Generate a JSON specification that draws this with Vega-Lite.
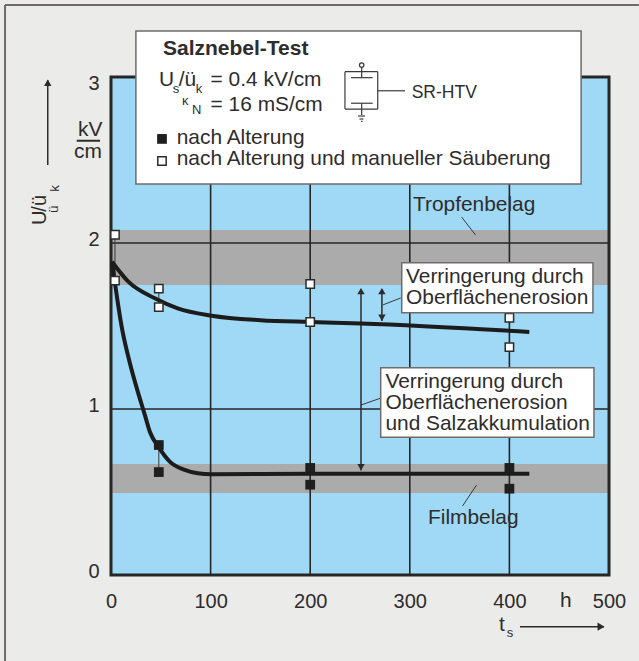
{
"$schema":"https://vega.github.io/schema/vega-lite/v6.json",
"width":498,"height":498,
"autosize":{"type":"none"},
"padding":{"left":111,"top":77,"right":30,"bottom":86},
"background":"#ebebe9",
"view":{"stroke":null},
"config":{"text":{"font":"Liberation Sans","color":"#2e2c2c","align":"left","baseline":"middle"}},
"encoding":{
 "x":{"field":"x","type":"quantitative","scale":{"domain":[0,500],"nice":false,"zero":false},
  "axis":{"values":[0,100,200,300,400,500],"grid":false,"domain":false,"ticks":false,"title":null,"labelFont":"Liberation Sans","labelFontSize":20,"labelColor":"#2e2c2c","labelPadding":16,"labelFlush":false,"labelOverlap":false}},
 "y":{"field":"y","type":"quantitative","scale":{"domain":[0,3],"nice":false,"zero":false},
  "axis":{"values":[0,1,2,3],"format":"d","grid":false,"domain":false,"ticks":false,"title":null,"labelFont":"Liberation Sans","labelFontSize":20,"labelColor":"#2e2c2c","labelPadding":12,"labelOffset":{"condition":{"test":"datum.value==3","value":6},"value":-4},"labelOverlap":false}}
},
"layer":[
 {"data":{"values":[{"x":-106.4,"x2":530,"y":3.434,"y2":3.434},{"x":-106.4,"x2":-106.4,"y":3.434,"y2":-0.52}]},
  "mark":{"type":"rule","color":"#6e6a6a","strokeWidth":2},"encoding":{"x2":{"field":"x2"},"y2":{"field":"y2"}}},
 {"data":{"values":[{"x":0,"x2":500,"y":0,"y2":3}]},"mark":{"type":"rect","color":"#9fd9f5"},"encoding":{"x2":{"field":"x2"},"y2":{"field":"y2"}}},
 {"data":{"values":[{"x":0,"x2":500,"y":1.747,"y2":2.078},{"x":0,"x2":500,"y":0.494,"y2":0.669}]},"mark":{"type":"rect","color":"#ababab"},"encoding":{"x2":{"field":"x2"},"y2":{"field":"y2"}}},
 {"data":{"values":[
   {"x":100,"x2":100,"y":0,"y2":3},{"x":200,"x2":200,"y":0,"y2":3},{"x":300,"x2":300,"y":0,"y2":3},{"x":400,"x2":400,"y":0,"y2":3},
   {"x":0,"x2":500,"y":1,"y2":1},{"x":0,"x2":500,"y":2,"y2":2}]},
  "mark":{"type":"rule","color":"#262626","strokeWidth":1.6},"encoding":{"x2":{"field":"x2"},"y2":{"field":"y2"}}},
 {"data":{"values":[{"x":0,"x2":500,"y":0,"y2":3}]},"mark":{"type":"rect","fillOpacity":0,"stroke":"#262626","strokeWidth":3},"encoding":{"x2":{"field":"x2"},"y2":{"field":"y2"}}},
 {"data":{"values":[
   {"x":4,"x2":4,"y":1.773,"y2":2.05},{"x":48,"x2":48,"y":1.614,"y2":1.725},{"x":48,"x2":48,"y":0.62,"y2":0.783},
   {"x":352,"x2":366,"y":2.157,"y2":2.048},{"x":367,"x2":353,"y":0.542,"y2":0.416},
   {"x":273,"x2":291,"y":1.627,"y2":1.669},{"x":251,"x2":271,"y":1.024,"y2":1.066}]},
  "mark":{"type":"rule","color":"#3a3a3a","strokeWidth":1},"encoding":{"x2":{"field":"x2"},"y2":{"field":"y2"}}},
 {"data":{"values":[{"x":251,"x2":251,"y":0.63,"y2":1.72},{"x":272,"x2":272,"y":1.53,"y2":1.72},{"x":-63.5,"x2":-63.5,"y":2.47,"y2":2.98},{"x":410.6,"x2":495,"y":-0.311,"y2":-0.311}]},
  "mark":{"type":"rule","color":"#2b2b2b","strokeWidth":1.5},"encoding":{"x2":{"field":"x2"},"y2":{"field":"y2"}}},
 {"data":{"values":[{"x":251,"y":1.71},{"x":272,"y":1.71},{"x":-63.5,"y":2.965}]},"mark":{"type":"point","shape":"triangle-up","filled":true,"color":"#2b2b2b","opacity":1,"size":55}},
 {"data":{"values":[{"x":251,"y":0.65},{"x":272,"y":1.55}]},"mark":{"type":"point","shape":"triangle-down","filled":true,"color":"#2b2b2b","opacity":1,"size":55}},
 {"data":{"values":[{"x":492,"y":-0.311}]},"mark":{"type":"point","shape":"triangle-right","filled":true,"color":"#2b2b2b","opacity":1,"size":65}},
 {"data":{"values":[
   {"series":"a","x":1,"y":1.887},{"series":"a","x":17.4,"y":1.767},{"series":"a","x":44,"y":1.667},{"series":"a","x":67,"y":1.606},{"series":"a","x":101,"y":1.562},{"series":"a","x":150,"y":1.535},{"series":"a","x":200,"y":1.524},{"series":"a","x":251,"y":1.515},{"series":"a","x":420,"y":1.464},
   {"series":"b","x":1,"y":1.887},{"series":"b","x":4,"y":1.757},{"series":"b","x":10.7,"y":1.496},{"series":"b","x":19,"y":1.275},{"series":"b","x":27.4,"y":1.094},{"series":"b","x":33.5,"y":0.974},{"series":"b","x":39,"y":0.863},{"series":"b","x":47.5,"y":0.773},{"series":"b","x":59,"y":0.683},{"series":"b","x":74,"y":0.633},{"series":"b","x":87,"y":0.613},{"series":"b","x":101,"y":0.607},{"series":"b","x":200,"y":0.61},{"series":"b","x":420,"y":0.61}]},
  "mark":{"type":"line","color":"#1c1c1c","strokeWidth":4,"interpolate":"monotone"},"encoding":{"detail":{"field":"series"}}},
 {"data":{"values":[{"x":48,"y":0.783},{"x":48,"y":0.62},{"x":200,"y":0.645},{"x":200,"y":0.544},{"x":400,"y":0.645},{"x":400,"y":0.52}]},
  "mark":{"type":"point","shape":"square","filled":true,"color":"#1f1f1f","opacity":1,"size":95}},
 {"data":{"values":[{"x":4,"y":2.05},{"x":4,"y":1.773},{"x":48,"y":1.725},{"x":48,"y":1.614},{"x":200,"y":1.753},{"x":200,"y":1.524},{"x":400,"y":1.55},{"x":400,"y":1.373}]},
  "mark":{"type":"point","shape":"square","filled":true,"fill":"#ffffff","stroke":"#2b2b2b","strokeWidth":1.5,"opacity":1,"size":70}},
 {"data":{"values":[{"x":25,"x2":472,"y":2.355,"y2":3.277},{"x":291.9,"x2":483.9,"y":1.58,"y2":1.881},{"x":270.8,"x2":484.9,"y":0.83,"y2":1.249}]},
  "mark":{"type":"rect","fill":"#ffffff","stroke":"#6f6b6b","strokeWidth":1.5},"encoding":{"x2":{"field":"x2"},"y2":{"field":"y2"}}},
 {"data":{"values":[{"x":51.2,"y":2.627}]},"mark":{"type":"point","shape":"square","filled":true,"color":"#1f1f1f","opacity":1,"size":95}},
 {"data":{"values":[{"x":51.2,"y":2.494}]},"mark":{"type":"point","shape":"square","filled":true,"fill":"#ffffff","stroke":"#2b2b2b","strokeWidth":1.5,"opacity":1,"size":70}},
 {"data":{"values":[
   {"x":234.9,"x2":267.8,"y":3.032,"y2":3.032},{"x":234.9,"x2":267.8,"y":2.807,"y2":2.807},{"x":234.9,"x2":234.9,"y":3.032,"y2":2.807},{"x":267.8,"x2":267.8,"y":3.032,"y2":2.807},
   {"x":241,"x2":262.7,"y":2.996,"y2":2.996},{"x":241,"x2":262.7,"y":2.842,"y2":2.842},
   {"x":251.7,"x2":251.7,"y":3.058,"y2":2.996},{"x":251.7,"x2":251.7,"y":2.842,"y2":2.771},
   {"x":267.8,"x2":295.2,"y":2.917,"y2":2.917},
   {"x":248,"x2":255,"y":2.765,"y2":2.765},{"x":249.5,"x2":253.5,"y":2.747,"y2":2.747},{"x":251,"x2":252.5,"y":2.733,"y2":2.733}]},
  "mark":{"type":"rule","color":"#3a3a3a","strokeWidth":1.2},"encoding":{"x2":{"field":"x2"},"y2":{"field":"y2"}}},
 {"data":{"values":[{"x":251.7,"y":3.072}]},"mark":{"type":"point","shape":"circle","filled":true,"fill":"#ffffff","stroke":"#3a3a3a","strokeWidth":1.2,"opacity":1,"size":20}},
 {"data":{"values":[{"x":-34.4,"x2":-11,"y":2.616,"y2":2.616}]},"mark":{"type":"rule","color":"#2e2c2c","strokeWidth":2},"encoding":{"x2":{"field":"x2"},"y2":{"field":"y2"}}},
 {"data":{"values":[{"x":52.2,"y":3.169,"t":"Salznebel-Test"}]},"mark":{"type":"text","fontSize":21,"fontWeight":"bold"},"encoding":{"text":{"field":"t"}}},
 {"data":{"values":[
   {"x":48.2,"y":2.982,"t":"U"},{"x":68,"y":2.982,"t":"/ü"},{"x":100,"y":2.982,"t":"= 0.4 kV/cm"},
   {"x":100,"y":2.831,"t":"= 16 mS/cm"},
   {"x":66,"y":2.633,"t":"nach Alterung"},{"x":66,"y":2.506,"t":"nach Alterung und manueller Säuberung"},
   {"x":303.2,"y":2.229,"t":"Tropfenbelag"},{"x":318.3,"y":0.343,"t":"Filmbelag"},
   {"x":296.2,"y":1.793,"t":"Verringerung durch"},{"x":296.2,"y":1.667,"t":"Oberflächenerosion"},
   {"x":275.5,"y":1.164,"t":"Verringerung durch"},{"x":275.5,"y":1.036,"t":"Oberflächenerosion"},{"x":275.5,"y":0.91,"t":"und Salzakkumulation"},
   {"x":450.8,"y":-0.157,"t":"h"},{"x":389.6,"y":-0.301,"t":"t"},
   {"x":-33.1,"y":2.681,"t":"kV"},{"x":-37.1,"y":2.55,"t":"cm"}]},
  "mark":{"type":"text","fontSize":20.9},"encoding":{"text":{"field":"t"}}},
 {"data":{"values":[{"x":301.9,"y":2.905,"t":"SR-HTV"}]},"mark":{"type":"text","fontSize":17.5},"encoding":{"text":{"field":"t"}}},
 {"data":{"values":[{"x":62,"y":2.93,"t":"s"},{"x":85,"y":2.93,"t":"k"},{"x":71.3,"y":2.855,"t":"κ"},{"x":81.3,"y":2.801,"t":"N"},{"x":397.3,"y":-0.348,"t":"s"}]},
  "mark":{"type":"text","fontSize":13},"encoding":{"text":{"field":"t"}}},
 {"data":{"values":[{"x":-71.3,"y":2.108,"t":"U"},{"x":-71.3,"y":2.189,"t":"/ü"}]},"mark":{"type":"text","fontSize":20,"angle":270},"encoding":{"text":{"field":"t"}}},
 {"data":{"values":[{"x":-57.2,"y":2.181,"t":"ü"},{"x":-56.2,"y":2.309,"t":"k"}]},"mark":{"type":"text","fontSize":13.5,"angle":270},"encoding":{"text":{"field":"t"}}}
]
}
